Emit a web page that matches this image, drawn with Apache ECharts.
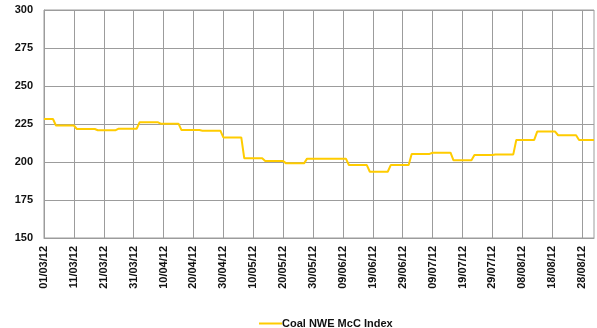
<!DOCTYPE html>
<html>
<head>
<meta charset="utf-8">
<title>Coal NWE McC Index</title>
<script src="https://cdn.jsdelivr.net/npm/echarts@6/dist/echarts.min.js"></script>
<style>
  html, body { margin: 0; padding: 0; background: #fff; }
  #chart { width: 597px; height: 328px; }
</style>
</head>
<body>
<div id="chart"></div>
<script>
// Daily index values (USD/t), 01/03/12 onwards; the weekly assessment holds until the next one.
const marchValues = [
  228.3, 228.3, 228.3, 228.3,
  224.0, 224.0, 224.0, 224.0, 224.0, 224.0, 224.0,
  221.7, 221.7, 221.7, 221.7, 221.7, 221.7, 221.7,
  220.9, 220.9, 220.9, 220.9, 220.9, 220.9, 220.9,
  221.9, 221.9, 221.9, 221.9, 221.9, 221.9, 221.9
];
const aprilValues = [
  226.2, 226.2, 226.2, 226.2, 226.2, 226.2, 226.2,
  225.2, 225.2, 225.2, 225.2, 225.2, 225.2, 225.2,
  221.0, 221.0, 221.0, 221.0, 221.0, 221.0, 221.0,
  220.6, 220.6, 220.6, 220.6, 220.6, 220.6, 220.6,
  216.2, 216.2, 216.2, 216.2, 216.2, 216.2, 216.2
];
const mayValues = [
  202.4, 202.4, 202.4, 202.4, 202.4, 202.4, 202.4,
  200.7, 200.7, 200.7, 200.7, 200.7, 200.7, 200.7,
  199.1, 199.1, 199.1, 199.1, 199.1, 199.1, 199.1,
  202.2, 202.2, 202.2, 202.2, 202.2, 202.2, 202.2,
  202.2, 202.2, 202.2, 202.2, 202.2, 202.2, 202.2
];
const juneJulyValues = [
  198.0, 198.0, 198.0, 198.0, 198.0, 198.0, 198.0,
  193.6, 193.6, 193.6, 193.6, 193.6, 193.6, 193.6,
  198.0, 198.0, 198.0, 198.0, 198.0, 198.0, 198.0,
  205.3, 205.3, 205.3, 205.3, 205.3, 205.3, 205.3,
  206.1, 206.1, 206.1, 206.1, 206.1, 206.1, 206.1,
  201.1, 201.1, 201.1, 201.1, 201.1, 201.1, 201.1,
  204.6, 204.6, 204.6, 204.6, 204.6, 204.6, 204.6,
  205.0, 205.0, 205.0, 205.0, 205.0, 205.0, 205.0
];
const augustValues = [
  214.5, 214.5, 214.5, 214.5, 214.5, 214.5, 214.5,
  220.0, 220.0, 220.0, 220.0, 220.0, 220.0, 220.0,
  217.6, 217.6, 217.6, 217.6, 217.6, 217.6, 217.6,
  214.5, 214.5, 214.5, 214.5, 214.5, 214.5
];
const indexValues = [].concat(marchValues, aprilValues, mayValues, juneJulyValues, augustValues);

// One category per calendar day, labelled dd/mm/yy.
const startDay = Date.UTC(2012, 2, 1);
const dayLabels = indexValues.map(function (v, i) {
  const d = new Date(startDay + i * 86400000);
  const dd = String(d.getUTCDate()).padStart(2, '0');
  const mm = String(d.getUTCMonth() + 1).padStart(2, '0');
  const yy = String(d.getUTCFullYear()).slice(2);
  return dd + '/' + mm + '/' + yy;
});

const yTicks = { min: 150, max: 300, step: 25 };
const seriesName = 'Coal NWE McC Index';

const chart = echarts.init(document.getElementById('chart'), null, { renderer: 'canvas' });
const fontFamily = '"Liberation Sans", Arial, sans-serif';
const gridGrey = '#9c9c9c';
const lineYellow = '#FFCC00';

chart.setOption({
  animation: false,
  backgroundColor: '#ffffff',
  grid: {
    left: 44, right: 3, top: 10, bottom: 90,
    show: true, borderColor: gridGrey, borderWidth: 1,
    containLabel: false
  },
  legend: {
    data: [seriesName],
    left: 254,
    top: 313,
    itemWidth: 23,
    itemHeight: 2,
    itemGap: 0,
    icon: 'rect',
    textStyle: { fontFamily: fontFamily, fontWeight: 'bold', fontSize: 11, color: '#111', padding: [0, 0, 0, -5] },
    itemStyle: { color: lineYellow, borderWidth: 0 }
  },
  xAxis: {
    type: 'category',
    data: dayLabels,
    boundaryGap: false,
    axisLine: { show: true, lineStyle: { color: gridGrey, width: 1 } },
    axisTick: { show: false, interval: 9 },
    axisLabel: {
      interval: 9,
      rotate: 90,
      margin: 8,
      fontFamily: fontFamily,
      fontWeight: 'bold',
      fontSize: 11,
      color: '#111'
    },
    splitLine: { show: true, interval: 9, lineStyle: { color: gridGrey, width: 1 } }
  },
  yAxis: {
    type: 'value',
    min: yTicks.min,
    max: yTicks.max,
    interval: yTicks.step,
    axisLine: { show: true, lineStyle: { color: gridGrey, width: 1 } },
    axisTick: { show: false },
    axisLabel: {
      margin: 11,
      fontFamily: fontFamily,
      fontWeight: 'bold',
      fontSize: 11,
      color: '#111'
    },
    splitLine: { show: true, lineStyle: { color: gridGrey, width: 1 } }
  },
  series: [{
    name: seriesName,
    type: 'line',
    data: indexValues,
    showSymbol: false,
    symbol: 'none',
    lineStyle: { color: lineYellow, width: 2 },
    itemStyle: { color: lineYellow }
  }]
});
</script>
</body>
</html>
